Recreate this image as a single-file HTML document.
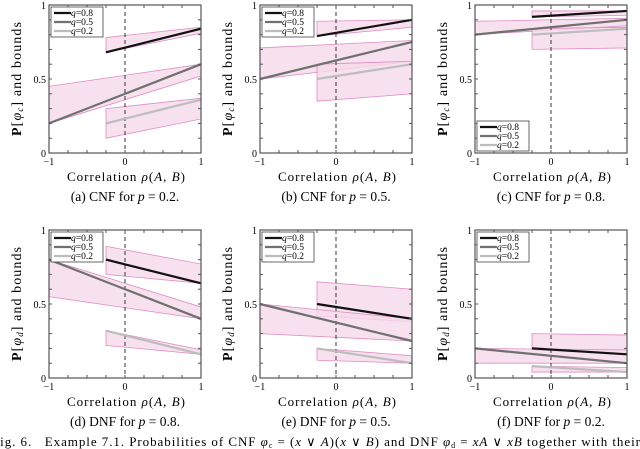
<!DOCTYPE html>
<html><head><meta charset="utf-8"><style>
body{margin:0;background:#fff;width:640px;height:449px;overflow:hidden;font-family:"Liberation Serif",serif}
svg{display:block}
</style></head><body>
<svg id="fig" width="640" height="449" viewBox="0 0 640 449" font-family="Liberation Serif, serif"></svg>
<script>
// panel data: [startX, lineStart, lineEnd, bandUpperStart, bandUpperEnd, bandLowerStart, bandLowerEnd] for q=0.8, 0.5, 0.2
const panelNames = ['cnf-p02','cnf-p05','cnf-p08','dnf-p08','dnf-p05','dnf-p02'];
const captions = ['(a) CNF for ','(b) CNF for ','(c) CNF for ','(d) DNF for ','(e) DNF for ','(f) DNF for '];
const pValues = ['0.2','0.5','0.8','0.8','0.5','0.2'];
const qLabels = ['0.8','0.5','0.2'];
const seriesA = [[-0.25,0.68,0.84,0.78,0.85,0.68,0.81],[-1,0.2,0.6,0.45,0.6,0.2,0.52],[-0.25,0.2,0.36,0.3,0.37,0.1,0.23]];
const seriesB = [[-0.25,0.79,0.9,0.89,0.9,0.79,0.85],[-1,0.5,0.75,0.71,0.76,0.5,0.62],[-0.25,0.5,0.6,0.6,0.62,0.35,0.4]];
const seriesC = [[-0.25,0.92,0.96,0.96,0.96,0.92,0.93],[-1,0.8,0.9,0.89,0.91,0.8,0.86],[-0.25,0.8,0.84,0.84,0.85,0.7,0.71]];
const seriesD = [[-0.25,0.8,0.64,0.89,0.77,0.7,0.64],[-1,0.8,0.4,0.8,0.48,0.55,0.4],[-0.25,0.32,0.16,0.32,0.19,0.22,0.16]];
const seriesE = [[-0.25,0.5,0.4,0.65,0.6,0.42,0.38],[-1,0.5,0.25,0.5,0.4,0.3,0.25],[-0.25,0.2,0.1,0.2,0.15,0.12,0.1]];
const seriesF = [[-0.25,0.2,0.16,0.3,0.29,0.19,0.16],[-1,0.2,0.1,0.2,0.19,0.1,0.1],[-0.25,0.08,0.04,0.08,0.07,0.04,0.04]];
const allSeries = [seriesA,seriesB,seriesC,seriesD,seriesE,seriesF];
const xTicks = [-1,0,1];
const xTickLabels = ['\u22121','0','1'];
const yTicks = [0,0.5,1];
const yTickLabels = ['0','0.5','1'];

const NS='http://www.w3.org/2000/svg';
const svg=document.getElementById('fig');
function mk(tag,attrs,parent){const e=document.createElementNS(NS,tag);for(const k in attrs)e.setAttribute(k,attrs[k]);(parent||svg).appendChild(e);return e;}
const lefts=[49,260,475], tops=[5,230], W=152, H=148;
const colors=['#111','#707070','#bdbdbd'];
allSeries.forEach((ser,pi)=>{
  const L=lefts[pi%3], T=tops[Math.floor(pi/3)];
  const sx=v=>L+(v+1)/2*W, sy=v=>T+H-v*H;
  const g=mk('g',{});
  
  
  ser.forEach((s,i)=>{
    const p=mk('polygon',{points:`${sx(s[0])},${sy(s[3])} ${sx(1)},${sy(s[4])} ${sx(1)},${sy(s[6])} ${sx(s[0])},${sy(s[5])}`,fill:'#f5d9ea',stroke:'#e08cc4','stroke-width':0.8,'fill-opacity':0.8},g);
    
    
  });
  const dz=mk('line',{x1:sx(0),x2:sx(0),y1:T,y2:T+H,stroke:'#222','stroke-width':0.9,'stroke-dasharray':'4,3'},g);
  
  
  ser.forEach((s,i)=>{
    const l=mk('line',{x1:sx(s[0]),y1:sy(s[1]),x2:sx(1),y2:sy(s[2]),stroke:colors[i],'stroke-width':2.2},g);
    
    
  });
  const bx=mk('rect',{x:L,y:T,width:W,height:H,fill:'none',stroke:'#555','stroke-width':1.2},g);
  
  
  for(let k=0;k<=8;k++){const x=L+k*W/8;mk('line',{x1:x,x2:x,y1:T+H,y2:T+H-3,stroke:'#555'},g);mk('line',{x1:x,x2:x,y1:T,y2:T+3,stroke:'#555'},g);}
  for(let k=0;k<=10;k++){const y=T+k*H/10;mk('line',{x1:L,x2:L+3,y1:y,y2:y,stroke:'#555'},g);mk('line',{x1:L+W,x2:L+W-3,y1:y,y2:y,stroke:'#555'},g);}
  xTicks.forEach((v,i)=>{const t=mk('text',{x:sx(v),y:T+H+12,'font-size':10,'text-anchor':'middle'},g);t.textContent=xTickLabels[i];
    });
  yTicks.forEach((v,i)=>{const t=mk('text',{x:L-3,y:sy(v)+4,'font-size':10,'text-anchor':'end'},g);t.textContent=yTickLabels[i];
    });
  const xl=mk('text',{x:L+W/2-58,y:T+H+28,'font-size':13,textLength:118,lengthAdjust:'spacing'},g);
  xl.innerHTML='Correlation <tspan font-style="italic">ρ</tspan>(<tspan font-style="italic">A</tspan>, <tspan font-style="italic">B</tspan>)';
  
  const yl=mk('text',{x:-57,y:0,'font-size':14,textLength:114,lengthAdjust:'spacing',transform:`translate(${L-28},${T+H/2}) rotate(-90)`},g);
  yl.innerHTML='<tspan font-weight="bold">P</tspan>[<tspan font-style="italic">φ</tspan><tspan font-size="9" dy="2" font-style="italic">'+(pi<3?'c':'d')+'</tspan><tspan dy="-2">] and bounds</tspan>';
  
  const cp=mk('text',{x:L+W/2,y:T+H+48,'font-size':13.5,'text-anchor':'middle'},g);
  cp.innerHTML=captions[pi]+'<tspan font-style="italic">p</tspan> = '+pValues[pi]+'.';
  
  const ly = pi===2 ? T+H-32 : T+2;
  const lg=mk('g',{},g);
  
  mk('rect',{x:L+2,y:ly,width:52,height:30,fill:'#fff',stroke:'#444','stroke-width':0.8},lg);
  qLabels.forEach((q,i)=>{const y=ly+6+i*9;
    mk('line',{x1:L+5,x2:L+22,y1:y,y2:y,stroke:colors[i],'stroke-width':2.2},lg);
    const t=mk('text',{x:L+22,y:y+3,'font-size':9.5},lg);t.innerHTML='<tspan font-style="italic">q</tspan>='+q;
    });
});
const fc=mk('text',{x:-8,y:446,'font-size':13,textLength:648,lengthAdjust:'spacing'});
fc.innerHTML='Fig. 6.&#160;&#160;&#160;Example 7.1. Probabilities of CNF <tspan font-style="italic">φ</tspan><tspan font-size="8" dy="2">c</tspan><tspan dy="-2"> = (</tspan><tspan font-style="italic">x</tspan> ∨ <tspan font-style="italic">A</tspan>)(<tspan font-style="italic">x</tspan> ∨ <tspan font-style="italic">B</tspan>) and DNF <tspan font-style="italic">φ</tspan><tspan font-size="8" dy="2">d</tspan><tspan dy="-2"> = </tspan><tspan font-style="italic">xA</tspan> ∨ <tspan font-style="italic">xB</tspan> together with their';


</script>
</body></html>
